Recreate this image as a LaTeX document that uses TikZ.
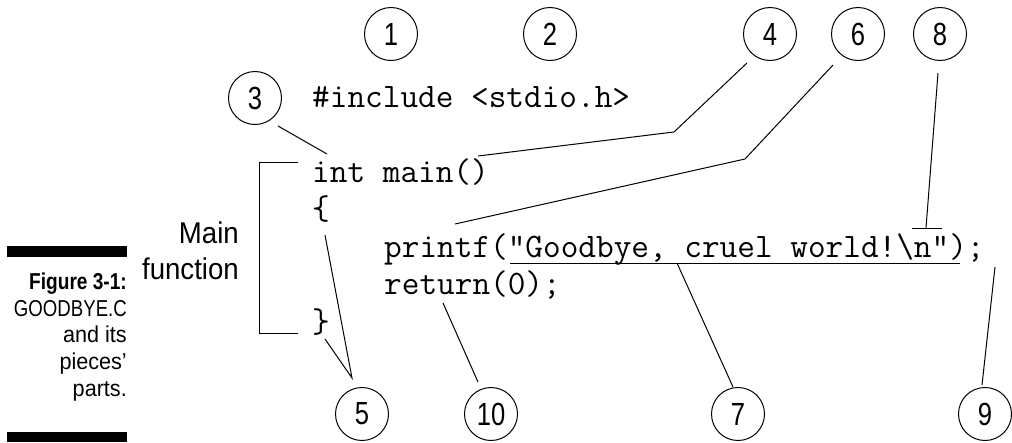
\documentclass[tikz,border=0pt]{standalone}
\usepackage{fontspec}
\usepackage{graphicx}
\usetikzlibrary{calc}
\newfontfamily\codefont{Latin Modern Mono}
\newfontfamily\sansfnt{Liberation Sans}
\newcommand{\hsq}[2]{\scalebox{#1}[1]{#2}}
\tikzset{
  num/.style={circle,draw,line width=1pt,minimum size=53pt,inner sep=0pt,
    font=\sansfnt\fontsize{32}{32}\selectfont},
  code/.style={anchor=base west,inner sep=0pt,font=\codefont\fontsize{34.29}{40}\selectfont},
  capline/.style={anchor=base east,inner sep=0pt,font=\sansfnt\fontsize{23}{27}\selectfont},
  capbold/.style={anchor=base east,inner sep=0pt,font=\sansfnt\bfseries\fontsize{23}{27}\selectfont},
  lbl/.style={anchor=base east,inner sep=0pt,font=\sansfnt\fontsize{30}{34}\selectfont},
  conn/.style={line width=1pt},
  bar/.style={fill=black,draw=none}
}
\begin{document}
\begin{tikzpicture}[x=1pt,y=-1pt]
\useasboundingbox (0,0) rectangle (1012,442);

% code lines
\node[code] (inc) at (312,107) {\#include <stdio.h>};
\node[code] (main) at (312,182) {int main()};
\node[code] (ob) at (312,219.5) {\{};
\node[code] (pf) at (384,257) {printf("Goodbye, cruel world!\textbackslash n");};
\node[code] (ret) at (384,294.5) {return(0);};
\node[code] (cb) at (312,332) {\}};

% numbered circles
\node[num] (c1) at (391,34) {\hsq{0.8}{1}};
\node[num] (c2) at (550,34) {\hsq{0.8}{2}};
\node[num] (c3) at (255,98) {\hsq{0.8}{3}};
\node[num] (c4) at (770,34) {\hsq{0.8}{4}};
\node[num] (c6) at (858,34) {\hsq{0.8}{6}};
\node[num] (c8) at (940,34) {\hsq{0.8}{8}};
\node[num] (c5) at (362,414) {\hsq{0.8}{5}};
\node[num] (c10) at (491,414) {\hsq{0.8}{10}};
\node[num] (c7) at (738,414) {\hsq{0.8}{7}};
\node[num] (c9) at (985,414) {\hsq{0.8}{9}};

% left labels
\node[lbl] (lmain) at (239,243) {\hsq{0.92}{Main}};
\node[lbl] (lfun) at (239,279) {\hsq{0.92}{function}};
\node[capbold] (f1) at (127,289) {\hsq{0.83}{Figure 3-1:}};
\node[capline] (f2) at (127,316) {\hsq{0.81}{GOODBYE.C}};
\node[capline] (f3) at (127,342) {\hsq{0.94}{and its}};
\node[capline] (f4) at (127,369) {\hsq{0.94}{pieces’}};
\node[capline] (f5) at (127,396) {\hsq{0.94}{parts.}};
\fill[bar] (7,246) rectangle (127,257);
\fill[bar] (7,432) rectangle (127,442);

% bracket for main function
\coordinate (bt) at (298,162);
\coordinate (bb) at (298,333);
\draw[conn] (bt) -- (259,162) -- (259,333) -- (bb);

% underline and overline in printf
\coordinate (ulA) at ($(pf.base west)+(126,6)$);
\coordinate (ulB) at ($(pf.base west)+(576,6)$);
\draw[conn] (ulA) -- (ulB);
\coordinate (olA) at ($(pf.base west)+(528,-29)$);
\coordinate (olB) at ($(pf.base west)+(558,-29)$);
\coordinate (olM) at ($(pf.base west)+(542,-29)$);
\draw[conn] (olA) -- (olB);

% connectors
\coordinate (e3) at (327,154);
\draw[conn] ($(c3)+(23,28)$) -- (e3);

\coordinate (e4) at (478,156);
\coordinate (k4) at (674,132);
\draw[conn] ($(c4)+(-23,29)$) -- (k4) -- (e4);

\coordinate (e6) at (455,224);
\coordinate (k6) at (745,159);
\draw[conn] ($(c6)+(-25,31)$) -- (k6) -- (e6);

\draw[conn] ($(c8)+(-2,39)$) -- (olM);

\coordinate (m5) at ($(c5)+(-10,-36)$);
\coordinate (s5a) at (325,235);
\coordinate (s5b) at (325,339);
\draw[conn] (s5a) -- (m5) -- (s5b);

\coordinate (s10) at (443,303);
\draw[conn] (s10) -- ($(c10)+(-13,-32)$);

\coordinate (s7) at (677,263);
\draw[conn] (s7) -- ($(c7)+(-5,-27)$);

\coordinate (s9) at (995,267);
\draw[conn] (s9) -- ($(c9)+(-3,-29)$);
\end{tikzpicture}
\end{document}
